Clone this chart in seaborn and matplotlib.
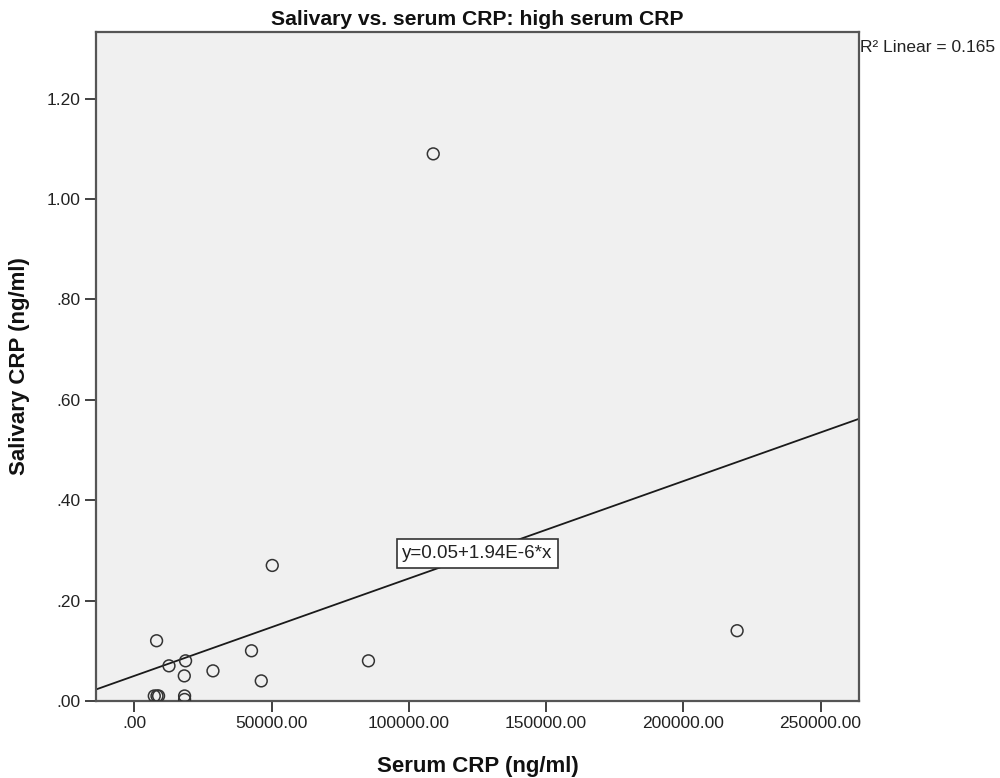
import numpy as np
import pandas as pd
import matplotlib
matplotlib.use("Agg")
import matplotlib.pyplot as plt
import seaborn as sns

# values
serum_crp = [108900, 50260, 219600, 85300, 42700, 46250, 28660, 8120, 12640,
             18680, 18210, 18320, 18320, 7280, 8270, 8850]
salivary_crp = [1.09, 0.27, 0.14, 0.08, 0.10, 0.04, 0.06, 0.12, 0.07,
                0.08, 0.05, 0.01, 0.003, 0.01, 0.01, 0.01]
fit_intercept = 0.05
fit_slope = 1.94e-6
r2_linear = 0.165
x_ticks = [0, 50000, 100000, 150000, 200000, 250000]
y_ticks = [0.0, 0.2, 0.4, 0.6, 0.8, 1.0, 1.2]

df = pd.DataFrame({"serum": serum_crp, "saliva": salivary_crp})

sns.set_style("white")
plt.rcParams["font.family"] = ["Liberation Sans", "DejaVu Sans"]

fig = plt.figure(figsize=(10, 7.78), dpi=100)
ax = fig.add_axes([0.096, 0.099, 0.763, 0.860])
ax.set_facecolor("#f0f0f0")

sns.scatterplot(data=df, x="serum", y="saliva", ax=ax, marker="o", s=72,
                facecolor="none", edgecolor="#333333", linewidth=1.1, zorder=3)

ax.axline((0, fit_intercept), slope=fit_slope, color="#1a1a1a", linewidth=1.3, zorder=2)

ax.set_xlim(-13950, 264000)
ax.set_ylim(0, 1.333)
ax.set_xticks(x_ticks)
ax.set_yticks(y_ticks)


def strip_zero(v):
    s = f"{v:.2f}"
    return s[1:] if s.startswith("0") else s


ax.set_xticklabels([strip_zero(v) for v in x_ticks])
ax.set_yticklabels([strip_zero(v) for v in y_ticks])
ax.tick_params(axis="both", direction="out", length=8, width=1.3,
               color="#333333", labelsize=12.5, labelcolor="#222222", pad=3)
ax.tick_params(axis="x", bottom=True)
ax.tick_params(axis="y", left=True)

for sp in ax.spines.values():
    sp.set_color("#555555")
    sp.set_linewidth(1.6)

ax.set_xlabel("Serum CRP (ng/ml)", fontsize=16, fontweight="bold", color="#111111")
ax.set_ylabel("Salivary CRP (ng/ml)", fontsize=16, fontweight="bold", color="#111111")
ax.xaxis.set_label_coords(0.5, -0.082)
ax.yaxis.set_label_coords(-0.086, 0.5)
ax.set_title("Salivary vs. serum CRP: high serum CRP", fontsize=15.2,
             fontweight="bold", color="#111111", pad=5)

ax.text(125000, 0.294, f"y={fit_intercept:.2f}+{fit_slope*1e6:.2f}E-6*x",
        ha="center", va="center", fontsize=13.5, color="#222222", zorder=4,
        bbox=dict(boxstyle="square,pad=0.3", facecolor="white",
                  edgecolor="#333333", linewidth=1.2))

fig.text(0.860, 1 - 47 / 778, f"R² Linear = {r2_linear:.3f}", ha="left",
         va="center", fontsize=12.5, color="#222222")

fig.savefig("out.png", dpi=100)
